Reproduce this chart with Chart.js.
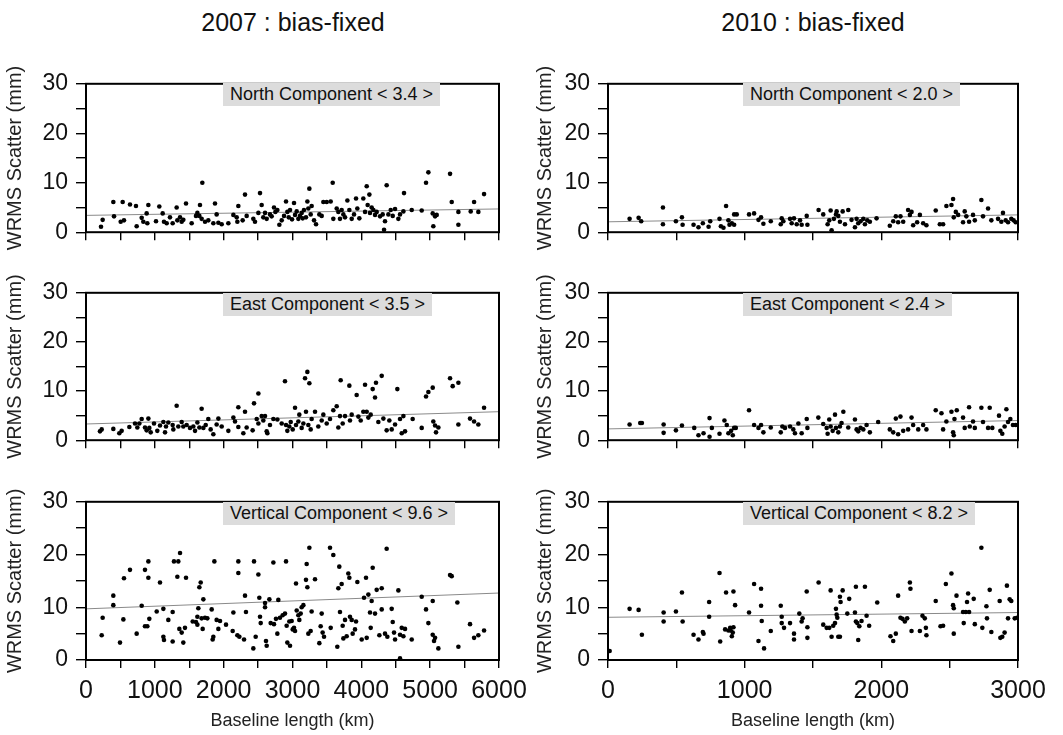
<!DOCTYPE html>
<html><head><meta charset="utf-8">
<script src="https://cdn.jsdelivr.net/npm/chart.js@4.4.1/dist/chart.umd.min.js"></script>
<style>
html,body{margin:0;padding:0;background:#fff;}
body{width:1063px;height:735px;position:relative;overflow:hidden;font-family:"Liberation Sans",Arial,Helvetica,sans-serif;}
canvas{position:absolute;}
.ttl{position:absolute;font-size:25px;color:#111;text-align:center;width:400px;line-height:30px;}
.lbl{position:absolute;background:#dcdcdc;font-size:18px;color:#111;height:23px;line-height:23px;padding:0 7px;white-space:nowrap;}
</style></head>
<body>
<div class="ttl" style="left:93px;top:7px;">2007 : bias-fixed</div>
<div class="ttl" style="left:613px;top:7px;">2010 : bias-fixed</div>
<canvas id="c1" width="545" height="192" style="left:0;top:62px"></canvas>
<canvas id="c2" width="533" height="192" style="left:530px;top:62px"></canvas>
<canvas id="c3" width="545" height="191" style="left:0;top:271px"></canvas>
<canvas id="c4" width="533" height="191" style="left:530px;top:271px"></canvas>
<canvas id="c5" width="545" height="255" style="left:0;top:480px"></canvas>
<canvas id="c6" width="533" height="255" style="left:530px;top:480px"></canvas>
<div class="lbl" style="left:223px;top:83px;">North Component &lt; 3.4 &gt;</div>
<div class="lbl" style="left:743px;top:83px;">North Component &lt; 2.0 &gt;</div>
<div class="lbl" style="left:223px;top:293px;">East Component &lt; 3.5 &gt;</div>
<div class="lbl" style="left:743px;top:293px;">East Component &lt; 2.4 &gt;</div>
<div class="lbl" style="left:223px;top:502px;">Vertical Component &lt; 9.6 &gt;</div>
<div class="lbl" style="left:743px;top:502px;">Vertical Component &lt; 8.2 &gt;</div>
<script>
// ---------- data (baseline length km, WRMS scatter mm) ----------
const yTickLabels = ['0','10','20','30'];
const xTickLabels2007 = ['0','1000','2000','3000','4000','5000','6000'];
const xTickLabels2010 = ['0','1000','2000','3000'];

const north2007X = [218,242,397,407,504,533,552,639,726,736,809,833,881,906,891,1017,1065,1114,1133,1172,1220,1259,1317,1327,1366,1390,1414,1453,1535,1598,1618,1656,1647,1690,1680,1729,1777,1850,1874,1898,1923,1971,2068,2141,2189,2213,2199,2276,2310,2334,2431,2455,2504,2528,2552,2576,2601,2625,2673,2697,2731,2751,2780,2809,2843,2877,2906,2925,2945,2964,2993,3022,3037,3061,3085,3109,3133,3148,3167,3196,3216,3245,3230,3264,3278,3313,3342,3390,3424,3448,3497,3555,3584,3593,3642,3666,3690,3714,3739,3763,3797,3826,3860,3894,3923,3942,3971,4029,4054,4078,4092,4117,4126,4150,4175,4199,4223,4272,4310,4330,4344,4368,4393,4427,4456,4490,4538,4562,4620,4611,4732,4877,4940,4974,5037,5046,5071,5095,5289,5313,5410,5410,5589,5638,5700,5783];
const north2007Y = [1.1,2.5,6.1,3.2,2.1,6.1,2.4,5.6,5.3,1.2,2.9,2.1,3.8,5.5,1.8,2.2,5.2,3.8,2.1,1.8,3.0,1.8,5.0,2.4,3.0,2.1,2.5,5.8,1.8,3.3,3.9,5.5,3.3,10.0,2.7,2.1,2.4,1.8,5.8,3.6,1.9,1.6,1.8,3.5,3.0,5.3,2.1,2.4,7.6,3.3,2.7,2.1,3.9,7.9,5.5,3.0,3.9,2.7,3.6,3.2,5.0,4.1,4.5,1.5,2.4,3.3,6.2,4.1,3.0,4.5,2.6,5.9,3.5,4.2,2.7,3.3,3.9,2.8,4.5,3.0,6.2,8.8,4.8,3.6,5.3,2.4,1.6,3.6,3.3,6.1,6.1,6.2,10.0,2.7,4.8,4.1,2.7,4.5,3.6,3.0,6.4,4.5,2.7,3.6,6.8,4.8,2.8,6.8,4.1,9.3,5.5,7.6,3.9,5.0,4.5,3.5,4.1,3.2,3.6,0.5,2.2,9.5,3.6,4.5,3.3,4.7,2.7,3.6,7.9,4.2,4.5,4.4,10.0,12.1,3.8,1.2,3.2,3.5,11.8,6.1,4.1,1.5,4.2,6.1,4.1,7.7];

const north2010X = [158,224,243,402,402,497,541,546,626,662,694,736,748,816,826,845,864,881,889,906,923,942,923,1032,1069,1101,1120,1137,1191,1264,1271,1283,1332,1344,1361,1381,1405,1417,1454,1459,1541,1575,1607,1619,1629,1636,1653,1668,1673,1685,1697,1717,1734,1758,1782,1807,1819,1831,1848,1868,1880,1897,1916,1965,2062,2087,2106,2123,2140,2160,2196,2209,2221,2233,2262,2282,2306,2330,2398,2428,2452,2476,2513,2525,2530,2545,2562,2598,2610,2622,2642,2671,2684,2732,2744,2781,2805,2854,2878,2890,2910,2927,2951,2968,2983];
const north2010Y = [2.7,2.9,2.2,5.0,1.6,2.2,3.0,1.5,1.5,1.0,1.8,1.1,2.2,2.7,1.2,0.9,5.3,2.4,1.5,1.8,3.6,3.6,1.5,3.6,3.8,2.5,3.0,1.7,2.2,1.6,2.8,2.2,2.7,1.8,2.8,1.6,2.4,1.5,3.3,1.5,4.5,3.6,1.6,2.4,4.4,0.4,2.7,3.6,4.2,3.3,2.1,4.2,1.6,4.5,2.5,1.0,2.7,1.8,2.2,2.7,1.6,2.4,2.1,2.8,1.3,2.2,3.2,2.0,3.2,2.1,4.5,3.5,4.1,1.4,2.0,3.5,1.8,1.4,4.4,1.6,1.6,5.3,5.5,6.7,3.0,4.1,3.5,2.0,4.2,3.2,2.1,3.5,2.4,6.5,3.2,4.8,2.4,2.7,2.1,3.9,2.4,2.0,2.7,2.4,2.0];

const east2007X = [203,228,397,484,518,630,712,746,775,809,857,881,906,920,940,988,1036,1075,1124,1148,1162,1196,1259,1269,1317,1341,1390,1414,1462,1511,1559,1584,1618,1647,1680,1705,1739,1777,1811,1850,1898,1923,1971,2068,2141,2165,2213,2213,2286,2310,2334,2421,2441,2504,2480,2504,2552,2576,2601,2625,2635,2673,2722,2780,2843,2891,2906,2925,2954,2974,3003,3037,3051,3085,3099,3133,3158,3182,3216,3245,3196,3230,3264,3278,3327,3375,3424,3448,3497,3545,3593,3642,3666,3690,3700,3729,3763,3826,3835,3860,3932,3957,3991,4029,4054,4078,4102,4136,4165,4199,4213,4247,4296,4320,4368,4407,4441,4490,4523,4562,4587,4611,4635,4746,4877,4940,4974,5037,5046,5071,5085,5119,5289,5327,5410,5410,5579,5638,5700,5783];
const east2007Y = [1.8,2.2,2.3,1.4,1.9,2.7,3.4,2.6,3.4,4.3,2.6,2.0,4.4,2.5,1.6,3.4,1.9,3.0,3.7,1.6,2.8,3.6,3.1,2.2,7.0,2.8,3.7,2.8,3.1,2.5,2.8,1.9,3.6,2.6,6.4,2.5,3.1,4.3,2.2,1.2,3.2,4.4,2.8,1.9,4.6,3.8,6.7,2.7,1.4,5.8,2.6,2.0,7.5,9.5,4.3,3.4,4.9,4.0,4.9,1.8,1.4,3.1,4.3,4.2,3.4,12.0,3.1,1.9,2.8,3.7,2.2,6.6,3.1,3.8,5.2,2.5,3.4,12.6,13.9,11.6,5.8,3.1,2.2,4.3,5.8,2.8,4.0,5.2,3.4,4.3,6.1,6.9,2.6,4.9,12.2,3.4,4.9,11.1,4.0,5.2,9.2,4.8,4.0,5.8,11.3,5.8,4.6,5.2,10.4,8.7,11.7,3.7,13.1,4.4,2.0,4.0,2.2,3.2,10.4,4.3,1.4,4.9,1.8,4.3,2.5,8.9,9.8,10.7,3.8,3.0,1.6,2.6,12.6,11.0,11.7,3.2,4.4,3.8,3.2,6.6];

const east2010X = [158,236,248,407,407,497,541,631,662,699,743,743,760,816,852,869,881,901,913,923,935,1032,1069,1101,1120,1137,1191,1264,1276,1295,1332,1356,1368,1393,1417,1454,1459,1539,1575,1600,1607,1619,1629,1644,1661,1668,1685,1697,1709,1722,1758,1807,1819,1831,1848,1868,1892,1916,1977,2062,2087,2106,2123,2140,2160,2196,2221,2233,2270,2306,2330,2398,2440,2452,2476,2513,2525,2530,2535,2552,2598,2610,2642,2647,2671,2684,2732,2744,2781,2793,2812,2861,2871,2885,2902,2915,2927,2944,2963,2983];
const east2010Y = [3.2,3.5,3.5,3.2,1.5,2.0,3.0,2.5,1.0,1.4,0.7,4.5,2.5,1.3,4.0,3.1,1.4,1.9,1.0,2.5,2.5,6.1,3.1,2.5,3.1,1.6,2.6,1.6,2.8,2.5,2.8,2.2,1.4,3.4,1.4,4.3,2.5,4.6,3.3,2.5,1.3,4.2,2.8,1.9,5.2,2.5,1.6,2.8,3.5,5.8,2.6,4.2,2.2,1.8,2.5,2.2,3.1,1.6,3.7,2.2,1.6,4.4,1.2,4.8,1.9,2.2,4.6,3.1,2.2,3.1,2.2,6.1,5.5,2.2,3.8,5.8,1.6,1.0,4.3,6.1,4.6,2.5,6.7,2.8,3.8,2.5,6.6,3.7,2.5,6.6,2.5,5.0,1.9,1.3,2.8,6.3,3.7,4.3,3.1,3.1];

const vert2007X = [228,242,397,397,494,543,552,639,736,809,857,857,891,906,906,920,1027,1075,1124,1124,1133,1196,1259,1259,1278,1327,1341,1366,1356,1390,1414,1438,1453,1550,1598,1618,1618,1632,1647,1666,1680,1695,1705,1729,1763,1826,1840,1850,1865,1898,1923,1947,2034,2131,2141,2199,2213,2213,2228,2296,2310,2324,2431,2441,2465,2504,2518,2528,2538,2601,2601,2615,2625,2664,2683,2722,2731,2760,2780,2794,2818,2857,2891,2906,2915,2925,2954,2964,2988,3003,3022,3037,3051,3061,3085,3099,3119,3133,3158,3196,3206,3216,3245,3230,3264,3278,3327,3390,3409,3424,3438,3458,3545,3555,3593,3651,3666,3680,3690,3714,3729,3739,3763,3787,3811,3826,3835,3860,3874,3908,3923,3942,4005,4039,4068,4078,4102,4126,4136,4150,4165,4199,4223,4262,4296,4296,4344,4368,4378,4441,4456,4475,4490,4538,4562,4562,4587,4611,4635,4732,4877,4940,4974,5037,5037,5056,5071,5119,5289,5313,5395,5410,5579,5638,5700,5783];
const vert2007Y = [4.7,8.0,12.2,10.4,3.3,7.7,15.5,17.1,5.0,10.3,17.1,6.4,6.4,18.7,15.6,7.8,9.2,14.7,9.7,4.4,3.8,7.6,9.1,3.5,18.7,15.8,18.7,20.3,5.9,5.2,3.3,6.1,15.6,7.3,7.2,8.2,6.7,9.8,13.8,14.7,7.9,5.9,11.5,8.0,7.9,9.6,3.9,4.4,18.7,7.6,5.9,7.4,6.7,5.5,9.0,4.7,18.7,16.5,4.4,3.9,12.2,9.1,2.2,18.7,4.4,16.2,11.8,8.2,7.0,10.8,10.0,3.6,2.7,11.5,7.0,18.5,6.8,7.8,5.0,11.4,8.0,8.5,8.8,18.7,6.5,3.3,7.3,2.7,7.4,5.8,6.1,5.5,14.5,9.4,8.5,7.6,8.8,10.0,10.4,15.2,18.2,13.8,21.3,5.0,5.5,9.2,15.3,3.2,6.4,8.8,5.2,4.4,21.3,6.1,19.9,2.5,13.6,17.7,9.1,14.4,6.5,4.1,7.6,4.5,16.4,15.6,8.2,7.6,5.0,5.8,7.3,14.8,3.9,11.8,15.6,4.2,12.4,9.0,6.1,11.2,17.5,8.8,13.3,4.7,13.6,9.6,5.0,21.1,4.4,9.7,7.2,5.2,3.9,13.2,4.8,0.3,6.1,4.5,5.9,3.9,12.0,9.6,7.0,11.2,4.8,3.6,4.2,2.2,16.1,15.9,10.9,2.5,6.8,4.2,4.7,5.6];

const vert2010X = [12,158,224,248,407,407,497,541,546,626,662,694,699,740,740,816,821,857,864,881,894,898,906,913,918,930,918,1032,1069,1101,1120,1120,1125,1142,1191,1264,1271,1271,1288,1332,1361,1361,1400,1417,1424,1454,1459,1459,1541,1575,1600,1619,1629,1636,1648,1661,1668,1673,1678,1685,1697,1702,1717,1697,1751,1765,1807,1814,1814,1824,1831,1839,1855,1880,1892,1911,1970,2067,2087,2106,2123,2140,2155,2172,2189,2209,2213,2221,2282,2301,2318,2326,2330,2398,2433,2452,2472,2513,2525,2530,2530,2550,2598,2603,2618,2627,2635,2642,2676,2684,2732,2739,2769,2773,2793,2805,2866,2871,2885,2902,2919,2927,2939,2951,2976,2993];
const vert2010Y = [1.7,9.7,9.5,4.8,9.0,7.3,9.2,12.8,7.3,4.8,3.9,5.3,5.0,11.0,8.2,16.5,3.5,5.8,12.8,5.6,6.1,5.6,4.5,5.2,13.0,10.4,6.2,9.0,14.4,3.6,13.5,10.3,7.4,2.2,5.5,10.3,8.2,7.0,6.1,7.0,5.0,3.9,8.8,7.3,7.9,13.0,6.2,4.2,14.7,6.7,6.1,6.1,13.2,4.4,6.5,7.0,9.7,8.6,8.0,4.4,12.0,11.0,13.2,4.4,8.8,11.6,9.0,13.9,7.3,7.0,3.8,6.4,7.4,13.9,8.4,6.5,10.9,4.5,3.6,5.0,12.2,8.0,7.8,7.3,7.9,14.7,13.5,5.5,5.5,8.4,7.9,6.1,4.7,11.2,6.4,6.5,14.4,16.4,10.4,9.8,5.0,12.2,9.1,7.0,9.1,11.0,12.6,9.1,11.6,6.8,21.3,6.1,10.2,7.9,13.3,5.3,11.2,4.2,4.4,5.2,14.1,7.9,11.5,11.2,7.9,8.0];

// trend lines: [value at x=0, value at x=max]
const trendNorth2007 = [3.4, 4.7];
const trendEast2007  = [3.3, 5.8];
const trendVert2007  = [9.7, 12.7];
const trendNorth2010 = [2.1, 3.5];
const trendEast2010  = [2.3, 4.0];
const trendVert2010  = [8.1, 9.0];

// ---------- drawing ----------
const FONT = '"Liberation Sans", Arial, Helvetica, sans-serif';
Chart.defaults.font.family = FONT;
Chart.defaults.color = '#111';

const framePlugin = {
  id: 'frame',
  afterDraw(chart) {
    const a = chart.chartArea, c = chart.ctx;
    c.save();
    c.strokeStyle = '#000';
    c.lineWidth = 2;
    c.strokeRect(a.left, a.top, a.right - a.left, a.bottom - a.top);
    c.restore();
  }
};

function pts(xs, ys) { return xs.map((x, i) => ({x: x, y: ys[i]})); }

function makePanel(id, xs, ys, trend, xMax, xLabels, showXLabels, yAxisWidth, padRight) {
  const xSet = new Set(xLabels);
  const ySet = new Set(yTickLabels);
  new Chart(document.getElementById(id), {
    type: 'scatter',
    data: {
      datasets: [
        {
          data: pts(xs, ys),
          pointRadius: 2.3,
          pointBackgroundColor: '#000',
          pointBorderWidth: 0,
          borderWidth: 0
        },
        {
          type: 'line',
          data: [{x: 0, y: trend[0]}, {x: xMax, y: trend[1]}],
          borderColor: '#8a8a8a',
          borderWidth: 1,
          pointRadius: 0,
          fill: false
        }
      ]
    },
    options: {
      responsive: false,
      animation: false,
      devicePixelRatio: 1,
      layout: { padding: { top: 15, right: padRight, left: 0, bottom: 0 } },
      plugins: { legend: { display: false }, tooltip: { enabled: false } },
      scales: {
        x: {
          type: 'linear',
          min: 0, max: xMax,
          border: { display: false },
          grid: { drawOnChartArea: false, drawTicks: true, tickLength: 8, color: '#000', lineWidth: 1.4 },
          ticks: {
            stepSize: 500, autoSkip: false, maxRotation: 0, minRotation: 0,
            padding: 8, color: '#111',
            font: { size: 25, family: FONT },
            callback: v => (showXLabels && xSet.has(String(v))) ? String(v) : ''
          },
          title: { display: showXLabels, text: 'Baseline length (km)', font: { size: 18, family: FONT }, color: '#222', padding: { top: 0, bottom: 3 } },
          afterFit: s => { s.height = showXLabels ? 75 : 12; }
        },
        y: {
          min: 0, max: 30,
          border: { display: false },
          grid: { drawOnChartArea: false, drawTicks: true, tickLength: 10, color: '#000', lineWidth: 1.4 },
          ticks: {
            stepSize: 5, autoSkip: false, padding: 8, color: '#111',
            font: { size: 23, family: FONT },
            callback: v => ySet.has(String(v)) ? String(v) : ''
          },
          title: { display: true, text: 'WRMS Scatter (mm)', font: { size: 20, family: FONT }, color: '#222', padding: { top: 3, bottom: 0 } },
          afterFit: s => { s.width = yAxisWidth; }
        }
      }
    },
    plugins: [framePlugin]
  });
}

makePanel('c1', north2007X, north2007Y, trendNorth2007, 6000, xTickLabels2007, false, 86, 46);
makePanel('c2', north2010X, north2010Y, trendNorth2010, 3000, xTickLabels2010, false, 78, 45);
makePanel('c3', east2007X, east2007Y, trendEast2007, 6000, xTickLabels2007, false, 86, 46);
makePanel('c4', east2010X, east2010Y, trendEast2010, 3000, xTickLabels2010, false, 78, 45);
makePanel('c5', vert2007X, vert2007Y, trendVert2007, 6000, xTickLabels2007, true, 86, 46);
makePanel('c6', vert2010X, vert2010Y, trendVert2010, 3000, xTickLabels2010, true, 78, 45);
</script>
</body></html>
